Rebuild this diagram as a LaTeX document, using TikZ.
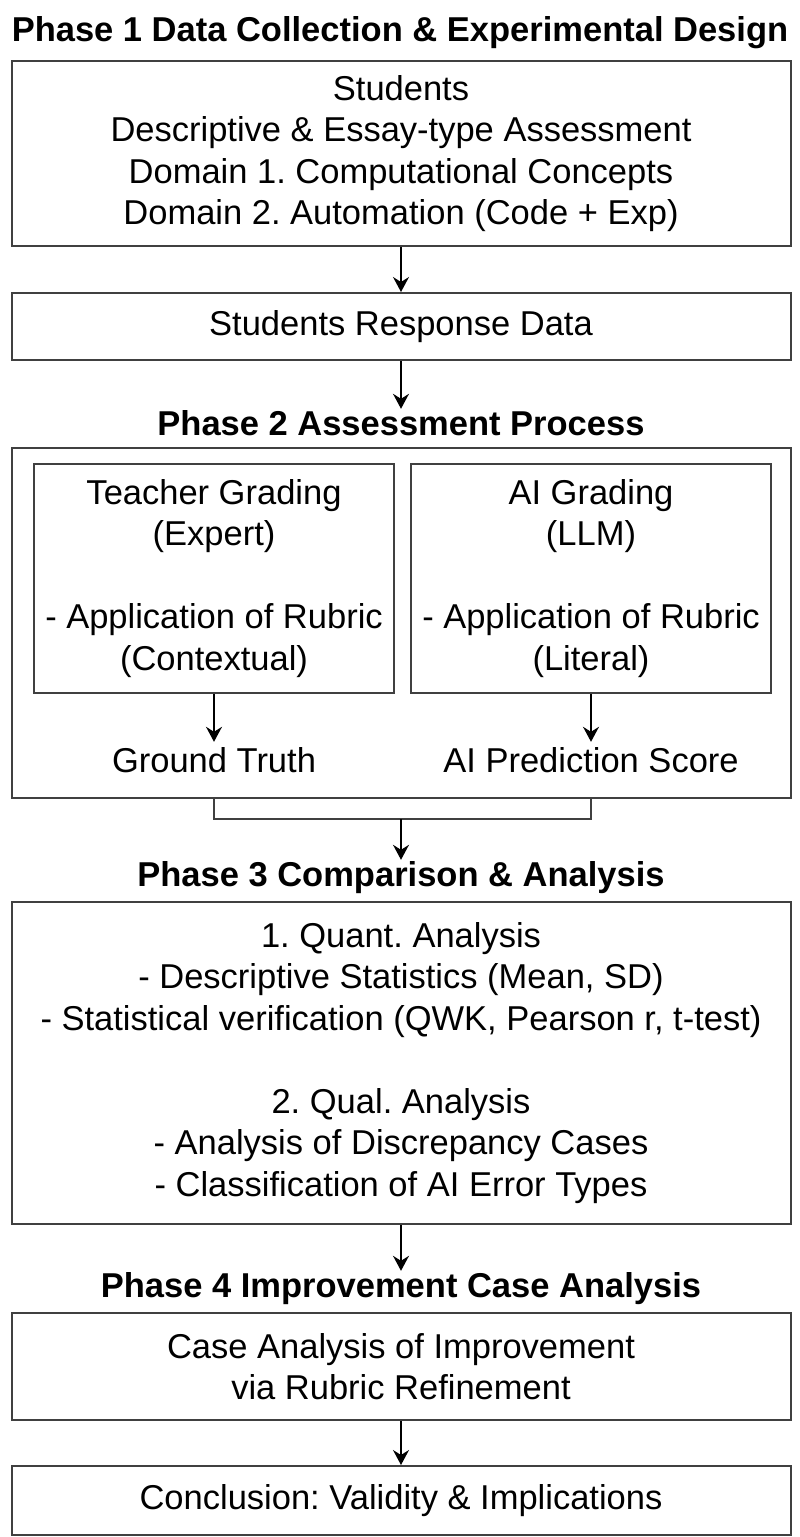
\documentclass[tikz,border=0pt]{standalone}
\usepackage{fontspec}
\setmainfont{Liberation Sans}
\usetikzlibrary{arrows.meta}
\frenchspacing
\begin{document}
\begin{tikzpicture}[x=1pt,y=-1pt,
        box/.style={draw=black!75,line width=2pt,align=center,inner sep=0pt,
            font=\fontsize{34.5}{41.5}\selectfont},
        title/.style={anchor=base,inner sep=1pt,
            font=\fontsize{34.5}{41.5}\selectfont\bfseries},
        lbl/.style={anchor=base,inner sep=5pt,font=\fontsize{34.5}{41.5}\selectfont},
        link/.style={draw=black!75,line width=2pt},
        arr/.style={-{Stealth[length=15pt,width=16pt,inset=5pt]},line width=1.6pt}]
\useasboundingbox (0,0) rectangle (800,1537);

\node[title] (t1) at (400,41) {Phase 1 Data Collection \& Experimental Design};
\node[box,minimum width=779,minimum height=185] (b1) at (401,153.5)
    {Students\\Descriptive \& Essay-type Assessment\\Domain 1. Computational Concepts\\Domain 2. Automation (Code + Exp)};
\node[box,minimum width=779,minimum height=67] (b2) at (401,326.5) {Students Response Data};

\node[title] (t2) at (401,435) {Phase 2 Assessment Process};
\node[box,minimum width=779,minimum height=350] (p2) at (401,623) {};
\node[box,minimum width=360,minimum height=229] (teacher) at (214,578.5)
    {Teacher Grading\\(Expert)\\ \\- Application of Rubric\\(Contextual)};
\node[box,minimum width=360,minimum height=229] (ai) at (591,578.5)
    {AI Grading\\(LLM)\\ \\- Application of Rubric\\(Literal)};
\node[lbl] (gt) at (214,772) {Ground Truth};
\node[lbl] (score) at (591,772) {AI Prediction Score};

\node[title] (t3) at (401,886) {Phase 3 Comparison \& Analysis};
\node[box,minimum width=779,minimum height=322] (b3) at (401,1063)
    {1. Quant. Analysis\\- Descriptive Statistics (Mean, SD)\\- Statistical verification (QWK, Pearson r, t-test)\\ \\2. Qual. Analysis\\- Analysis of Discrepancy Cases\\- Classification of AI Error Types};

\node[title] (t4) at (401,1297) {Phase 4 Improvement Case Analysis};
\node[box,minimum width=779,minimum height=107] (b4) at (401,1366.5)
    {Case Analysis of Improvement\\via Rubric Refinement};
\node[box,minimum width=779,minimum height=69] (b5) at (401,1500.5) {Conclusion: Validity \& Implications};

\coordinate (brl) at (214,819);
\coordinate (brr) at (591,819);

\draw[arr] (b1) -- (b2);
\draw[arr] (b2) -- (t2);
\draw[arr] (teacher) -- (gt);
\draw[arr] (ai) -- (score);
\draw[link] (brl |- p2.south) -- (brl) -- (brr) -- (brr |- p2.south);
\draw[arr] (brl -| t3.north) -- (t3.north);
\draw[arr] (b3) -- (t4);
\draw[arr] (b4) -- (b5);

\end{tikzpicture}
\end{document}
